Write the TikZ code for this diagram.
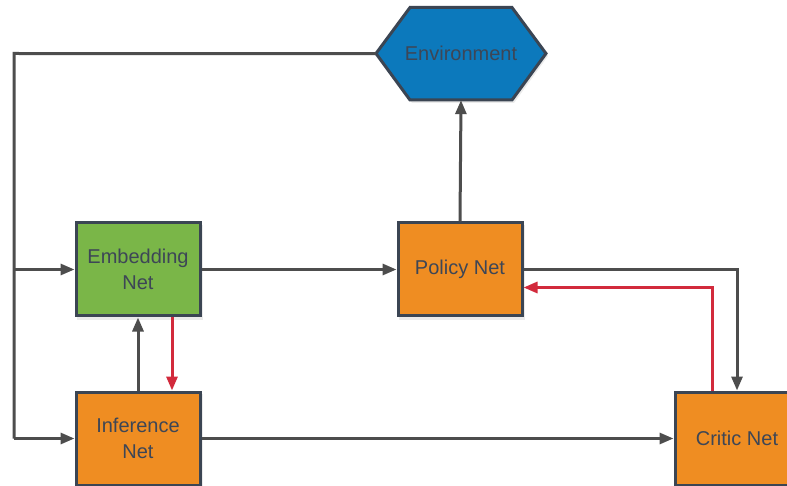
\documentclass[tikz,border=0pt]{standalone}
\usepackage{fontspec}
\setmainfont{Liberation Sans}
\usetikzlibrary{arrows.meta,calc}
\definecolor{lineg}{HTML}{4D4D4D}
\definecolor{bord}{HTML}{3B4553}
\definecolor{txt}{HTML}{3D4656}
\definecolor{redl}{HTML}{D22A3C}
\definecolor{greenf}{HTML}{7AB648}
\definecolor{orangef}{HTML}{EF8D22}
\definecolor{bluef}{HTML}{0C79BC}
\tikzset{
  x=1pt,y=-1pt,
  netbox/.style={draw=bord,line width=3pt,minimum width=124pt,minimum height=93pt,
    inner sep=0pt,align=center,text=txt,font=\fontsize{20}{26}\selectfont},
  shadowbox/.style={fill=black,opacity=0.08,draw=none,minimum width=126pt,minimum height=95pt},
  conn/.style={draw=lineg,line width=3pt,-{Triangle[length=14pt,width=11pt]}},
  redconn/.style={draw=redl,line width=3pt,-{Triangle[length=14pt,width=11pt]}},
  plain/.style={draw=lineg,line width=3pt}
}
\begin{document}
\begin{tikzpicture}
\useasboundingbox (0,0) rectangle (787,486);
\fill[white] (0,0) rectangle (787,486);
% shadows
\foreach \p in {(140,272.5),(462,272.5),(140,441.5),(739,441.5)}
  \node[shadowbox] at \p {};
% environment hexagon
\fill[black,opacity=0.08] (378,56) -- (412,10) -- (514,10) -- (548,56) -- (514,103) -- (412,103) -- cycle;
\filldraw[fill=bluef,draw=bord,line width=3pt,line join=miter]
  (376,53.5) -- (410,7.5) -- (512,7.5) -- (546,53.5) -- (512,100) -- (410,100) -- cycle;
\node[minimum width=170pt,minimum height=92.5pt,inner sep=0pt,text=txt,
  font=\fontsize{20}{26}\selectfont] (env) at (461,53.75) {Environment};
% boxes
\node[netbox,fill=greenf] (emb) at (138,269.5) {Embedding\\Net};
\node[netbox,fill=orangef] (pol) at (460,269.5) {Policy Net};
\node[netbox,fill=orangef] (inf) at (138,438.5) {Inference\\Net};
\node[netbox,fill=orangef] (cri) at (737,438.5) {Critic Net};
\coordinate (tl) at (14,53.5);
\coordinate (bl) at (14,438.5);
\coordinate (ml) at (14,269.5);
% connectors
\draw[plain] (env.west) -- (tl) -- (bl);
\draw[conn] (bl) -- (inf.west);
\draw[conn] (ml) -- (emb.west);
\draw[conn] (emb.east) -- (pol.west);
\draw[conn] (pol.north) -- (env.south);
\draw[conn] (pol.east) -| (cri.north);
\draw[redconn] ($(cri.north)+(-25,0)$) |- ($(pol.east)+(0,18)$);
\draw[redconn] ($(emb.south)+(34,0)$) -- ($(inf.north)+(34,0)$);
\draw[conn] (inf.north) -- (emb.south);
\draw[conn] (inf.east) -- (cri.west);
\end{tikzpicture}
\end{document}
